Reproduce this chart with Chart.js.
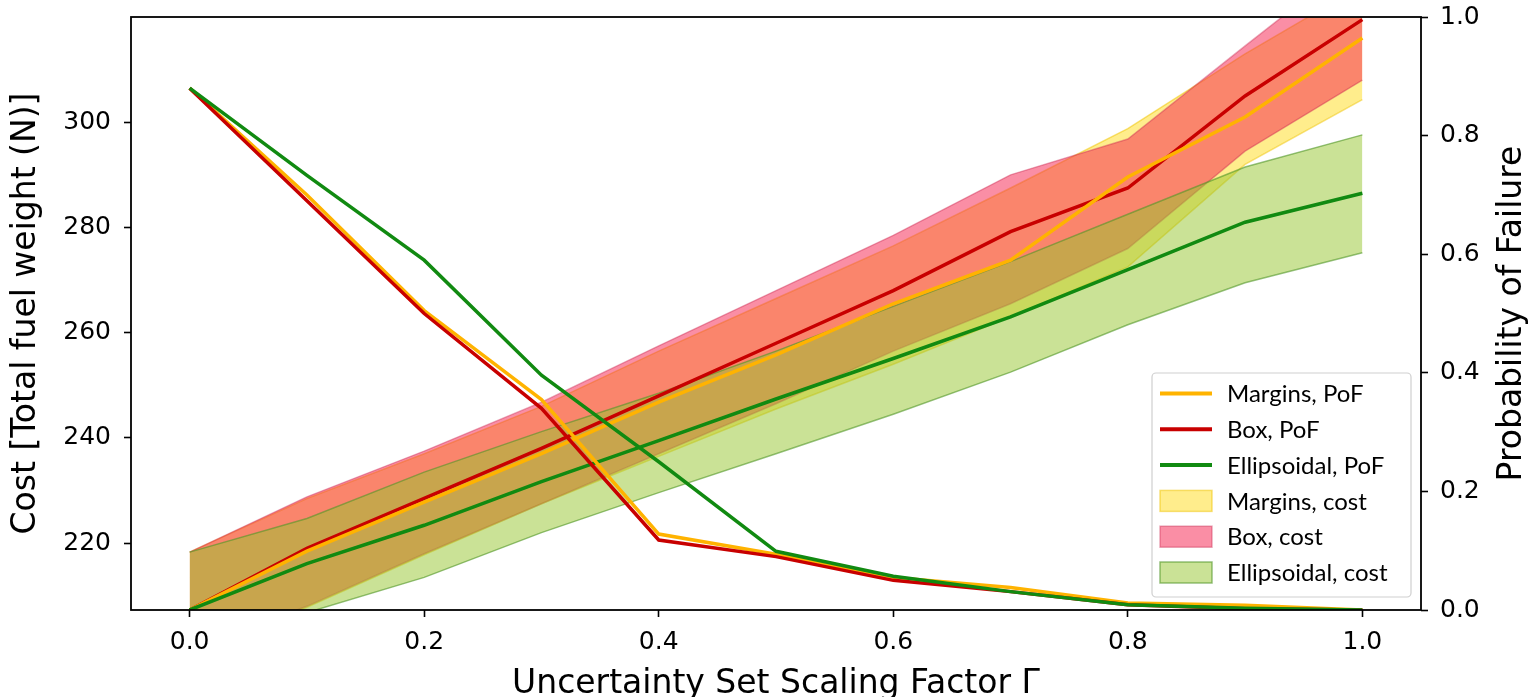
<!DOCTYPE html>
<html>
<head>
<meta charset="utf-8">
<script src="https://cdn.jsdelivr.net/npm/chart.js@4.4.1/dist/chart.umd.min.js"></script>
<style>
  html, body { margin: 0; padding: 0; background: #fff; overflow: hidden; }
  #chart { display: block; }
</style>
</head>
<body>
<canvas id="chart" width="1534" height="712"></canvas>
<script>
// uncertainty set scaling factor
const gamma = [0, 0.1, 0.2, 0.3, 0.4, 0.5, 0.6, 0.7, 0.8, 0.9, 1.0];

// probability of failure (right axis)
const marginsPoF = [0.88, 0.70, 0.505, 0.355, 0.128, 0.094, 0.055, 0.038, 0.012, 0.008, 0.0];
const boxPoF     = [0.88, 0.69, 0.50, 0.34, 0.118, 0.09, 0.05, 0.031, 0.009, 0.002, 0.0];
const ellipPoF   = [0.88, 0.733, 0.59, 0.396, 0.25, 0.099, 0.057, 0.031, 0.009, 0.003, 0.0];

// cost, mean line (left axis)
const marginsCost = [207.3, 218.5, 227.8, 237.0, 246.8, 255.8, 265.5, 273.8, 289.6, 301.0, 316.0];
const boxCost     = [207.3, 219.0, 228.5, 238.0, 248.0, 258.0, 268.0, 279.2, 287.5, 305.0, 319.5];
const ellipCost   = [207.3, 216.1, 223.4, 231.7, 239.5, 247.4, 255.1, 263.0, 272.0, 281.0, 286.5];

// cost, spread bands
const marginsLow  = [200.0, 207.8, 217.8, 227.5, 236.5, 245.5, 254.0, 263.0, 272.5, 292.0, 304.3];
const marginsHigh = [218.3, 228.5, 237.0, 246.0, 256.5, 266.5, 276.5, 287.5, 298.8, 313.0, 326.0];
const boxLow      = [200.0, 208.0, 218.0, 227.5, 237.0, 246.5, 256.5, 265.5, 276.0, 294.5, 308.0];
const boxHigh     = [218.3, 228.8, 237.5, 246.8, 257.5, 268.0, 278.5, 290.0, 296.8, 314.5, 332.0];
const ellipLow    = [200.0, 206.8, 213.5, 222.0, 229.6, 237.0, 244.5, 252.5, 261.5, 269.5, 275.2];
const ellipHigh   = [218.3, 224.7, 233.5, 241.2, 248.5, 256.5, 265.0, 273.5, 282.5, 291.5, 297.6];

// axes
const xTicks = [0, 0.2, 0.4, 0.6, 0.8, 1.0];
const costTicks = [220, 240, 260, 280, 300];
const pofTicks = [0, 0.2, 0.4, 0.6, 0.8, 1.0];
const xTitle = "Uncertainty Set Scaling Factor \u0393";
const costTitle = "Cost [Total fuel weight (N)]";
const pofTitle = "Probability of Failure";

const colors = {
  margins: "#ffb300",
  box: "#c80000",
  ellip: "#118a11",
  marginsFill: "rgba(255, 215, 0, 0.45)",
  boxFill: "rgba(245, 30, 75, 0.5)",
  ellipFill: "rgba(150, 198, 45, 0.5)",
  marginsEdge: "rgba(240, 195, 0, 0.5)",
  boxEdge: "rgba(200, 40, 80, 0.4)",
  ellipEdge: "rgba(80, 150, 40, 0.6)"
};

function points(values) {
  return gamma.map((g, i) => ({ x: g, y: values[i] }));
}

// frame round the plot area, like matplotlib spines
const frame = {
  id: "frame",
  afterDatasetsDraw(chart) {
    const a = chart.chartArea;
    const ctx = chart.ctx;
    ctx.save();
    ctx.strokeStyle = "#000";
    ctx.lineWidth = 1.8;
    ctx.strokeRect(a.left, a.top, a.right - a.left, a.bottom - a.top);
    ctx.restore();
  }
};

// right axis title reads bottom to top
const rightTitle = {
  id: "rightTitle",
  afterDraw(chart) {
    const a = chart.chartArea;
    const ctx = chart.ctx;
    ctx.save();
    ctx.translate(chart.width - 22, (a.top + a.bottom) / 2);
    ctx.rotate(-Math.PI / 2);
    ctx.font = "33px 'DejaVu Sans'";
    ctx.fillStyle = "#000";
    ctx.textAlign = "center";
    ctx.textBaseline = "middle";
    ctx.fillText(pofTitle, 0, 0);
    ctx.restore();
  }
};

const legendBox = {
  id: "legendBox",
  afterDraw(chart) {
    const a = chart.chartArea;
    const ctx = chart.ctx;
    const items = chart.data.datasets
      .filter(ds => ds.legendOrder !== undefined)
      .sort((p, q) => p.legendOrder - q.legendOrder);
    const w = 259, h = 224, rowH = 35.8;
    const left = a.right - 10 - w;
    const top = a.bottom - 13 - h;

    ctx.save();
    ctx.fillStyle = "rgba(255, 255, 255, 0.85)";
    ctx.strokeStyle = "#cfcfcf";
    ctx.lineWidth = 1.2;
    ctx.beginPath();
    ctx.roundRect(left, top, w, h, 4);
    ctx.fill();
    ctx.stroke();

    ctx.font = "24px Lato";
    ctx.textBaseline = "middle";
    items.forEach((ds, i) => {
      let cy = top + 20.5 + i * rowH;
      if (ds.fill) {
        ctx.fillStyle = ds.backgroundColor;
        ctx.fillRect(left + 8, cy - 10.5, 52, 21);
        ctx.strokeStyle = ds.borderColor;
        ctx.lineWidth = 1.5;
        ctx.strokeRect(left + 8, cy - 10.5, 52, 21);
      } else {
        ctx.strokeStyle = ds.borderColor;
        ctx.lineWidth = 4;
        ctx.beginPath();
        ctx.moveTo(left + 8, cy);
        ctx.lineTo(left + 60, cy);
        ctx.stroke();
      }
      ctx.fillStyle = "#000";
      ctx.fillText(ds.label, left + 75, cy + 1);
    });
    ctx.restore();
  }
};

function lineSet(label, values, color, axis, legendOrder) {
  return {
    label: label,
    data: points(values),
    yAxisID: axis,
    borderColor: color,
    borderWidth: 3.5,
    pointRadius: 0,
    fill: false,
    tension: 0,
    legendOrder: legendOrder
  };
}

function bandSet(label, values, fillColor, edgeColor, legendOrder) {
  return {
    label: label,
    data: points(values),
    yAxisID: "y",
    borderColor: edgeColor,
    borderWidth: 1.5,
    backgroundColor: fillColor,
    pointRadius: 0,
    fill: label ? "-1" : false,
    tension: 0,
    legendOrder: legendOrder
  };
}

const tickFont = { family: "DejaVu Sans", size: 25 };
const titleFont = { family: "DejaVu Sans", size: 33 };
const tickGrid = { drawOnChartArea: false, drawTicks: true, tickLength: 7, tickWidth: 1.6, tickColor: "#000" };

function noEdgePadding(s) {
  s.paddingTop = 0;
  s.paddingBottom = 0;
  s.paddingLeft = 0;
  s.paddingRight = 0;
}

function renderChart() {
  // first dataset is drawn on top
  let datasets = [
    lineSet("Ellipsoidal, PoF", ellipPoF, colors.ellip, "y2", 2),
    lineSet("Box, PoF", boxPoF, colors.box, "y2", 1),
    lineSet("Margins, PoF", marginsPoF, colors.margins, "y2", 0),
    lineSet("", ellipCost, colors.ellip, "y"),
    lineSet("", marginsCost, colors.margins, "y"),
    lineSet("", boxCost, colors.box, "y"),
    bandSet("", ellipLow, colors.ellipFill, colors.ellipEdge),
    bandSet("Ellipsoidal, cost", ellipHigh, colors.ellipFill, colors.ellipEdge, 5),
    bandSet("", boxLow, colors.boxFill, colors.boxEdge),
    bandSet("Box, cost", boxHigh, colors.boxFill, colors.boxEdge, 4),
    bandSet("", marginsLow, colors.marginsFill, colors.marginsEdge),
    bandSet("Margins, cost", marginsHigh, colors.marginsFill, colors.marginsEdge, 3)
  ];

  return new Chart(document.getElementById("chart"), {
    type: "line",
    data: { datasets: datasets },
    plugins: [frame, rightTitle, legendBox],
    options: {
      responsive: false,
      devicePixelRatio: 1,
      animation: false,
      events: [],
      layout: { padding: { top: 17, left: 0, right: 0, bottom: 0 } },
      plugins: {
        legend: { display: false },
        tooltip: { enabled: false },
        filler: { propagate: false }
      },
      scales: {
        x: {
          type: "linear",
          min: -0.05,
          max: 1.05,
          afterBuildTicks: s => { s.ticks = xTicks.map(v => ({ value: v })); },
          afterFit: s => { s.height = 102; noEdgePadding(s); },
          ticks: { font: tickFont, color: "#000", padding: 10, maxRotation: 0, autoSkip: false,
                   callback: v => v.toFixed(1) },
          grid: tickGrid,
          border: { display: false },
          title: { display: true, text: xTitle, font: titleFont, color: "#000", padding: { top: 0, bottom: 8 } }
        },
        y: {
          position: "left",
          min: 207.3,
          max: 320,
          afterBuildTicks: s => { s.ticks = costTicks.map(v => ({ value: v })); },
          afterFit: s => { s.width = 131; noEdgePadding(s); },
          ticks: { font: tickFont, color: "#000", padding: 13, callback: v => String(v) },
          grid: tickGrid,
          border: { display: false },
          title: { display: true, text: costTitle, font: titleFont, color: "#000", padding: { top: 7, bottom: 0 } }
        },
        y2: {
          position: "right",
          min: 0,
          max: 1,
          afterBuildTicks: s => { s.ticks = pofTicks.map(v => ({ value: v })); },
          afterFit: s => { s.width = 113; noEdgePadding(s); },
          ticks: { font: tickFont, color: "#000", padding: 12, callback: v => v.toFixed(1) },
          grid: tickGrid,
          border: { display: false }
        }
      }
    }
  });
}

renderChart();
</script>
</body>
</html>
